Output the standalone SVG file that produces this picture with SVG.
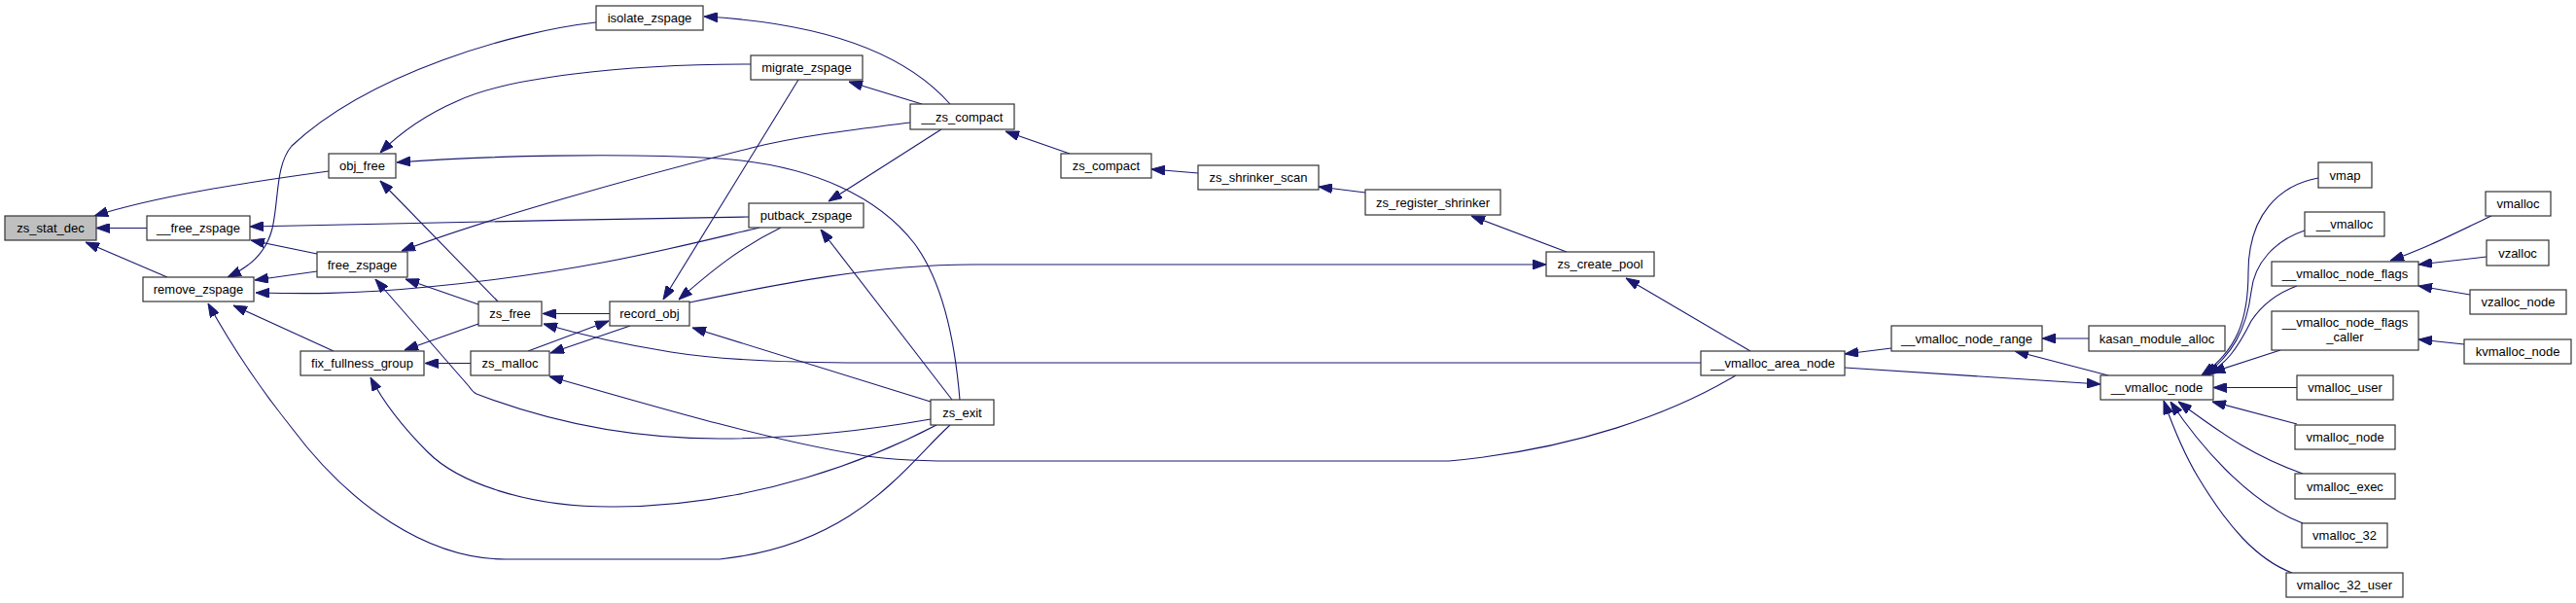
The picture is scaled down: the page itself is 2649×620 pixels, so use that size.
<svg xmlns="http://www.w3.org/2000/svg" width="2649" height="620" viewBox="0 0 2649 620">
<style>
.n rect{fill:#ffffff;stroke:#333333;stroke-width:1.2}
.n.root rect{fill:#bfbfbf}
.n text{font-family:"Liberation Sans",Arial,sans-serif;font-size:13px;fill:#000000;text-anchor:middle}
.e path{fill:none;stroke:#191970;stroke-width:1.1;marker-end:url(#ah)}
</style>
<defs>
<marker id="ah" viewBox="0 0 14 10" refX="14" refY="5" markerWidth="14" markerHeight="10" markerUnits="userSpaceOnUse" orient="auto">
<path d="M0,0 L14,5 L0,10 z" fill="#191970" stroke="#191970"/>
</marker>
</defs>
<rect width="2649" height="620" fill="#ffffff"/>
<g id="edges" class="e">
<path d="M338,176 C250,188 160,202 97,222"/>
<path d="M151,234.5 L99,234.5"/>
<path d="M172,285 L88,249"/>
<path d="M326,261 L258,247"/>
<path d="M770,223 C600,226 420,229 257,233"/>
<path d="M613,23 C530,32 380,75 300,150 C283,170 287,205 280,235 C273,262 255,275 234,285"/>
<path d="M772,66 C640,66 520,80 470,104 C440,117 415,133 391,157"/>
<path d="M987,411 C982,350 970,290 940,250 C905,205 840,170 740,163 C640,157 500,160 408,167"/>
<path d="M936,126 C880,133 820,140 773,152 C650,183 500,225 413,258"/>
<path d="M512,310 L391,186"/>
<path d="M492,313 L417,287"/>
<path d="M781,234 C700,253 600,280 440,295 C360,303 310,302 263,301"/>
<path d="M803,234 C760,255 730,280 698,308"/>
<path d="M821,82 L682,308"/>
<path d="M979,411 L844,236"/>
<path d="M968,133 L852,207"/>
<path d="M948,107 L873,84"/>
<path d="M709,311 C800,292 900,272 1000,272 L1590,272"/>
<path d="M977,107 C940,65 870,25 724,17"/>
<path d="M1100,158 L1034,135"/>
<path d="M1232,178 L1184,174"/>
<path d="M1404,198 L1356,192"/>
<path d="M1611,259 L1513,222"/>
<path d="M1800,361 L1672,286"/>
<path d="M1749,373 L890,373 C800,373 740,370 690,362 C640,354 600,345 559,333"/>
<path d="M627,322.5 L558,322.5"/>
<path d="M492,333 L416,360"/>
<path d="M484,373.5 L437,373.5"/>
<path d="M957,431 C900,441 820,451 740,451 C640,451 560,432 490,405 C486,403 484,400 482,397 L386,287"/>
<path d="M648,335 L566,363"/>
<path d="M543,361 L626,330"/>
<path d="M957,413 L712,337"/>
<path d="M1785,386 C1720,425 1620,462 1490,474 L980,474 C930,474 900,471 880,467 C790,452 680,420 565,387"/>
<path d="M963,437 C900,470 780,520 633,521 C540,522 470,495 440,465 C415,440 395,415 381,388"/>
<path d="M977,437 C930,480 880,560 740,575 L520,575 C440,575 360,520 300,440 C260,390 235,350 214,312"/>
<path d="M343,361 L240,314"/>
<path d="M326,279 L262,288"/>
<path d="M1945,358 L1897,364"/>
<path d="M1897,378 L2160,395"/>
<path d="M2148,348 L2100,348"/>
<path d="M2168,386 L2072,361"/>
<path d="M2384,183 C2345,190 2312,220 2312,280 C2312,330 2300,360 2264,386"/>
<path d="M2370,237 C2340,247 2318,270 2315,300 C2310,340 2295,365 2267,386"/>
<path d="M2362,294 C2340,302 2325,315 2315,330 C2300,360 2290,372 2270,386"/>
<path d="M2345,360 L2274,383"/>
<path d="M2362,398.5 L2276,398.5"/>
<path d="M2362,436 L2275,413"/>
<path d="M2368,487 C2320,470 2290,450 2240,413"/>
<path d="M2368,538 C2320,520 2270,470 2232,413"/>
<path d="M2357,589 C2320,575 2290,540 2260,490 C2245,465 2235,440 2225,412"/>
<path d="M2562,222 C2520,242 2495,255 2458,268"/>
<path d="M2557,264 L2487,272"/>
<path d="M2540,303 L2487,294"/>
<path d="M2534,354 L2487,349"/>
</g>
<g id="zs_stat_dec" class="n root"><rect x="5" y="222" width="94" height="25"/><text x="52" y="239">zs_stat_dec</text></g>
<g id="__free_zspage" class="n"><rect x="151" y="222" width="106" height="25"/><text x="204" y="239">__free_zspage</text></g>
<g id="remove_zspage" class="n"><rect x="147" y="285" width="114" height="25"/><text x="204" y="302">remove_zspage</text></g>
<g id="obj_free" class="n"><rect x="338" y="158" width="69" height="25"/><text x="372.5" y="175">obj_free</text></g>
<g id="free_zspage" class="n"><rect x="326" y="259" width="93" height="26"/><text x="372.5" y="276.5">free_zspage</text></g>
<g id="fix_fullness_group" class="n"><rect x="309" y="361" width="127" height="25"/><text x="372.5" y="378">fix_fullness_group</text></g>
<g id="isolate_zspage" class="n"><rect x="613" y="6" width="110" height="25"/><text x="668" y="23">isolate_zspage</text></g>
<g id="migrate_zspage" class="n"><rect x="772" y="57" width="115" height="25"/><text x="829.5" y="74">migrate_zspage</text></g>
<g id="putback_zspage" class="n"><rect x="770" y="209" width="118" height="25"/><text x="829" y="226">putback_zspage</text></g>
<g id="zs_free" class="n"><rect x="492" y="310" width="65" height="25"/><text x="524.5" y="327">zs_free</text></g>
<g id="record_obj" class="n"><rect x="627" y="310" width="82" height="25"/><text x="668" y="327">record_obj</text></g>
<g id="zs_malloc" class="n"><rect x="484" y="361" width="81" height="25"/><text x="524.5" y="378">zs_malloc</text></g>
<g id="__zs_compact" class="n"><rect x="936" y="107" width="107" height="26"/><text x="989.5" y="124.5">__zs_compact</text></g>
<g id="zs_compact" class="n"><rect x="1091" y="158" width="93" height="25"/><text x="1137.5" y="175">zs_compact</text></g>
<g id="zs_shrinker_scan" class="n"><rect x="1232" y="170" width="124" height="25"/><text x="1294" y="187">zs_shrinker_scan</text></g>
<g id="zs_register_shrinker" class="n"><rect x="1404" y="195" width="139" height="26"/><text x="1473.5" y="212.5">zs_register_shrinker</text></g>
<g id="zs_create_pool" class="n"><rect x="1590" y="259" width="111" height="25"/><text x="1645.5" y="276">zs_create_pool</text></g>
<g id="zs_exit" class="n"><rect x="957" y="411" width="65" height="26"/><text x="989.5" y="428.5">zs_exit</text></g>
<g id="__vmalloc_area_node" class="n"><rect x="1749" y="361" width="148" height="25"/><text x="1823" y="378">__vmalloc_area_node</text></g>
<g id="__vmalloc_node_range" class="n"><rect x="1945" y="335" width="155" height="26"/><text x="2022.5" y="352.5">__vmalloc_node_range</text></g>
<g id="kasan_module_alloc" class="n"><rect x="2148" y="335" width="140" height="26"/><text x="2218" y="352.5">kasan_module_alloc</text></g>
<g id="__vmalloc_node" class="n"><rect x="2160" y="386" width="116" height="25"/><text x="2218" y="403">__vmalloc_node</text></g>
<g id="vmap" class="n"><rect x="2384" y="167" width="55" height="26"/><text x="2411.5" y="184.5">vmap</text></g>
<g id="__vmalloc" class="n"><rect x="2370" y="218" width="82" height="25"/><text x="2411" y="235">__vmalloc</text></g>
<g id="__vmalloc_node_flags" class="n"><rect x="2336" y="269" width="151" height="25"/><text x="2411.5" y="286">__vmalloc_node_flags</text></g>
<g id="__vmalloc_node_flags_caller" class="n"><rect x="2336" y="320" width="151" height="40"/><text x="2411.5" y="336">__vmalloc_node_flags</text><text x="2411.5" y="351">_caller</text></g>
<g id="vmalloc_user" class="n"><rect x="2362" y="386" width="99" height="25"/><text x="2411.5" y="403">vmalloc_user</text></g>
<g id="vmalloc_node" class="n"><rect x="2360" y="437" width="103" height="25"/><text x="2411.5" y="454">vmalloc_node</text></g>
<g id="vmalloc_exec" class="n"><rect x="2360" y="487" width="103" height="26"/><text x="2411.5" y="504.5">vmalloc_exec</text></g>
<g id="vmalloc_32" class="n"><rect x="2367" y="538" width="88" height="25"/><text x="2411" y="555">vmalloc_32</text></g>
<g id="vmalloc_32_user" class="n"><rect x="2351" y="589" width="120" height="25"/><text x="2411" y="606">vmalloc_32_user</text></g>
<g id="vmalloc" class="n"><rect x="2556" y="197" width="67" height="25"/><text x="2589.5" y="214">vmalloc</text></g>
<g id="vzalloc" class="n"><rect x="2557" y="247" width="64" height="26"/><text x="2589" y="264.5">vzalloc</text></g>
<g id="vzalloc_node" class="n"><rect x="2540" y="298" width="99" height="25"/><text x="2589.5" y="315">vzalloc_node</text></g>
<g id="kvmalloc_node" class="n"><rect x="2534" y="349" width="110" height="25"/><text x="2589" y="366">kvmalloc_node</text></g>
</svg>
